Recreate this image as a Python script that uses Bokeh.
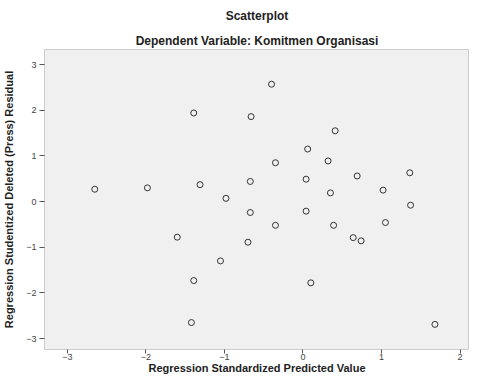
from bokeh.plotting import figure
from bokeh.models import Range1d, Title, FixedTicker, ColumnDataSource
from bokeh.embed import file_html
from bokeh.resources import INLINE

# Regression standardized predicted value (x) and studentized deleted residual (y)
pred = [-2.65, -1.98, -1.39, -1.31, -1.60, -1.39, -1.42, -0.98, -1.05, -0.66,
        -0.67, -0.67, -0.70, -0.40, -0.35, -0.35, 0.06, 0.04, 0.04, 0.10,
        0.32, 0.41, 0.35, 0.39, 0.69, 0.64, 0.74, 1.02, 1.05, 1.36, 1.37, 1.68]
resid = [0.27, 0.30, 1.94, 0.37, -0.78, -1.73, -2.65, 0.07, -1.30, 1.86,
         0.44, -0.24, -0.89, 2.57, 0.85, -0.52, 1.15, 0.49, -0.21, -1.78,
         0.89, 1.55, 0.19, -0.52, 0.56, -0.79, -0.86, 0.25, -0.46, 0.63, -0.08, -2.69]
x_ticks = [-3, -2, -1, 0, 1, 2]
y_ticks = [-3, -2, -1, 0, 1, 2, 3]

FONT = "Liberation Sans"

p = figure(width=469, height=376, output_backend="svg", toolbar_location=None,
           x_range=Range1d(-3.29, 2.12), y_range=Range1d(-3.24, 3.33),
           title="Scatterplot",
           min_border_left=37, min_border_right=0, min_border_bottom=10, min_border_top=0)

p.title.align = "center"
p.title.text_font = FONT
p.title.text_font_size = "12px"
p.title.text_font_style = "bold"
p.title.text_color = "#222222"
p.title.standoff = 13
p.add_layout(Title(text="Dependent Variable: Komitmen Organisasi", align="center",
                   text_font=FONT, text_font_size="12px", text_font_style="bold",
                   text_color="#222222", standoff=4), "above")

p.background_fill_color = "#f0f0f0"
p.border_fill_color = "white"
p.outline_line_color = "#cccccc"
p.grid.visible = False

for ax in (p.xaxis[0], p.yaxis[0]):
    ax.axis_line_color = None
    ax.major_tick_in = 0
    ax.major_tick_out = 5
    ax.major_tick_line_color = "#555555"
    ax.minor_tick_line_color = None
    ax.major_label_text_font = FONT
    ax.major_label_text_font_size = "9px"
    ax.major_label_text_color = "#444444"
    ax.major_label_standoff = 3
    ax.axis_label_text_font = FONT
    ax.axis_label_text_font_size = "11px"
    ax.axis_label_text_font_style = "bold"
    ax.axis_label_text_color = "#222222"

p.xaxis.ticker = FixedTicker(ticks=x_ticks)
p.yaxis.ticker = FixedTicker(ticks=y_ticks)
p.xaxis.axis_label = "Regression Standardized Predicted Value"
p.yaxis.axis_label = "Regression Studentized Deleted (Press) Residual"
p.xaxis.axis_label_standoff = -1
p.xaxis.major_label_standoff = 0
p.xaxis.major_tick_out = 4
p.yaxis.axis_label_standoff = 8

src = ColumnDataSource(dict(x=pred, y=resid))
p.scatter("x", "y", source=src, marker="circle", size=6, fill_color=None,
          line_color="#333333", line_width=1)

open("out.html", "w").write(file_html(p, INLINE))
